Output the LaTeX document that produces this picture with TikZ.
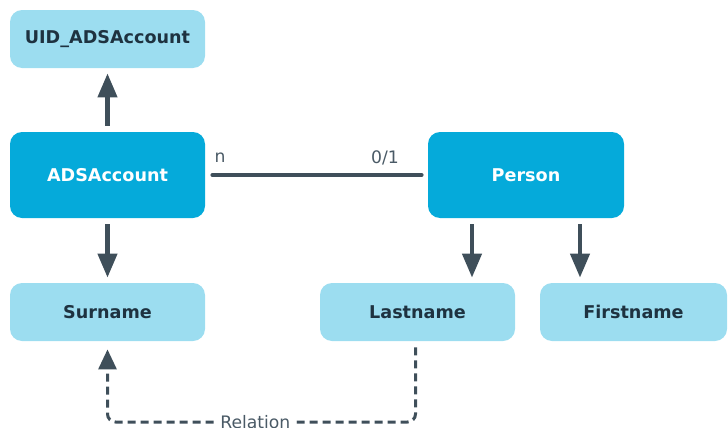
\documentclass[tikz,border=0pt]{standalone}
\usepackage{fontspec}
\setmainfont{DejaVu Sans}
\usetikzlibrary{arrows.meta, positioning}
\definecolor{darkbox}{HTML}{05AADA}
\definecolor{lightbox}{HTML}{9CDDF0}
\definecolor{boxtext}{HTML}{1E3240}
\definecolor{linecol}{HTML}{3F4F5A}
\definecolor{labelcol}{HTML}{4A5A66}

\tikzset{
    mainbox/.style={fill=darkbox, rounded corners=6pt, minimum width=97.5pt, minimum height=43pt,
        text=white, font=\fontsize{8.8}{10}\selectfont\bfseries},
    fieldbox/.style={fill=lightbox, rounded corners=6pt, minimum width=97.5pt, minimum height=29pt,
        text=boxtext, font=\fontsize{8.8}{10}\selectfont\bfseries},
    refarrow/.style={draw=linecol, line width=2.2pt, -{Triangle[length=12pt,width=9.5pt]}},
    relation/.style={draw=linecol, line width=1.5pt, dash pattern=on 4pt off 2.5pt,
        rounded corners=4pt, -{Triangle[length=10pt,width=9pt]}},
    lbl/.style={text=labelcol, font=\fontsize{8.6}{10}\selectfont}
}

\begin{document}
\begin{tikzpicture}[x=0.5pt, y=-0.5pt]
    \useasboundingbox (0,0) rectangle (728,428);

    % tables
    \node[fieldbox] (UID) at (107.5,39) {UID\_ADSAccount};
    \node[mainbox] (ADSAccount) at (107.5,175) {ADSAccount};
    \node[mainbox, minimum width=98pt] (Person) at (526,175) {Person};
    \node[fieldbox] (Surname) at (107.5,312) {Surname};
    \node[fieldbox] (Lastname) at (417.5,312) {Lastname};
    \node[fieldbox, minimum width=93.5pt] (Firstname) at (633.5,312) {Firstname};

    % columns
    \draw[refarrow] ([yshift=3pt]ADSAccount.north) -- ([yshift=-2.5pt]UID.south);
    \draw[refarrow] ([yshift=-3pt]ADSAccount.south) -- ([yshift=2.5pt]Surname.north);
    \draw[refarrow] ([xshift=-27pt,yshift=-3pt]Person.south) -- ([xshift=27.25pt,yshift=2.5pt]Lastname.north);
    \draw[refarrow] ([xshift=27pt,yshift=-3pt]Person.south) -- ([xshift=-26.75pt,yshift=2.5pt]Firstname.north);

    % foreign key
    \draw[linecol, line width=2pt, line cap=round] ([xshift=3.5pt]ADSAccount.east) -- ([xshift=-3pt]Person.west);
    \node[lbl] (n) at (220,158) {n};
    \node[lbl] (zeroone) at (385,158) {0/1};

    % relation
    \draw[relation] ([xshift=-1pt,yshift=-3pt]Lastname.south) -- ([xshift=-1pt]Lastname.south |- 0,422)
        -- node[lbl, fill=white, inner xsep=3pt, pos=0.52] (rel) {Relation} (Surname.south |- 0,422)
        -- ([yshift=-4pt]Surname.south);
\end{tikzpicture}
\end{document}
